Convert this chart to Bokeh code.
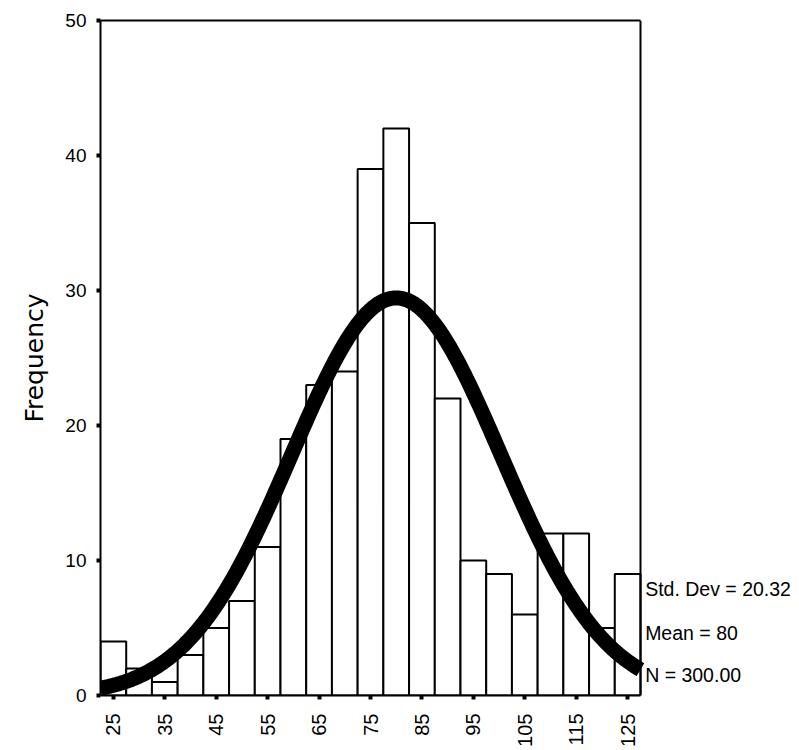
import numpy as np
from bokeh.plotting import figure
from bokeh.models import Label, FixedTicker, Range1d, LinearAxis
from bokeh.embed import file_html
from bokeh.resources import INLINE
from math import pi

bin_centers = [25, 30, 35, 40, 45, 50, 55, 60, 65, 70, 75, 80, 85, 90, 95, 100, 105, 110, 115, 120, 125]
counts = [4, 2, 1, 3, 5, 7, 11, 19, 23, 24, 39, 42, 35, 22, 10, 9, 6, 12, 12, 5, 9]
bin_width = 5
x_ticks = [25, 35, 45, 55, 65, 75, 85, 95, 105, 115, 125]
y_ticks = [0, 10, 20, 30, 40, 50]
std_dev = 20.32
mean = 80
n_total = 300
stat_lines = ["Std. Dev = 20.32", "Mean = 80", "N = 300.00"]

FONT = "Liberation Sans"

x_lo, x_hi = 22.5, 127.5          # histogram extent
y_lo, y_hi = 0, 50
box_px = 540                        # pixel width of the histogram box
frame_w = 690                       # frame includes room for the statistics text
x_end = x_lo + (x_hi - x_lo) * frame_w / box_px

p = figure(width=100 + frame_w + 4, height=748, output_backend="svg", toolbar_location=None,
           x_range=Range1d(x_lo, x_end), y_range=Range1d(y_lo, y_hi),
           frame_width=frame_w, frame_height=675,
           min_border_left=100, min_border_top=20, min_border_right=4, min_border_bottom=53)

bottom_ax = p.below[0]
left_ax = p.left[0]

p.xgrid.visible = False
p.ygrid.visible = False
p.outline_line_color = None

left = [c - bin_width / 2 for c in bin_centers]
right = [c + bin_width / 2 for c in bin_centers]
p.quad(left=left, right=right, bottom=0, top=counts, fill_color="white",
       line_color="black", line_width=2)

xs = np.linspace(x_lo, x_hi, 400)
ys = n_total * bin_width / (std_dev * np.sqrt(2 * np.pi)) * np.exp(-0.5 * ((xs - mean) / std_dev) ** 2)
p.line(xs, ys, line_color="black", line_width=15, line_cap="butt", line_join="round")

# right border of the box
p.segment(x0=[x_hi], y0=[y_lo], x1=[x_hi], y1=[y_hi], line_color="black", line_width=2)

# top border of the box as a tickless axis
top_ax = LinearAxis(ticker=FixedTicker(ticks=[]), bounds=(x_lo, x_hi),
                    axis_line_width=2, axis_line_color="black",
                    major_tick_line_color=None, minor_tick_line_color=None,
                    major_label_text_font_size="0px")
p.add_layout(top_ax, "above")

bottom_ax.bounds = (x_lo, x_hi)
for ax in (bottom_ax, left_ax):
    ax.axis_line_color = "black"
    ax.axis_line_width = 2
    ax.major_tick_line_color = "black"
    ax.major_tick_line_width = 4
    ax.major_tick_out = 4
    ax.major_tick_in = 0
    ax.minor_tick_line_color = None
    ax.major_label_text_font = FONT
    ax.major_label_text_color = "black"

bottom_ax.major_label_text_font_size = "20px"
left_ax.major_label_text_font_size = "19px"
bottom_ax.ticker = FixedTicker(ticks=x_ticks)
left_ax.ticker = FixedTicker(ticks=y_ticks)
bottom_ax.major_label_orientation = pi / 2
bottom_ax.major_label_standoff = 14
left_ax.major_label_standoff = 10

left_ax.axis_label = "Frequency"
left_ax.axis_label_text_font = "DejaVu Sans"
left_ax.axis_label_text_font_size = "25px"
left_ax.axis_label_text_font_style = "normal"
left_ax.axis_label_text_color = "black"
left_ax.axis_label_standoff = 13

stat_y = [7.9, 4.6, 1.5]
for txt, yy in zip(stat_lines, stat_y):
    p.add_layout(Label(x=x_hi + 0.9, y=yy, text=txt, text_font=FONT,
                       text_font_size="19.5px", text_baseline="middle", text_color="black"))

open("out.html", "w").write(file_html(p, INLINE))
